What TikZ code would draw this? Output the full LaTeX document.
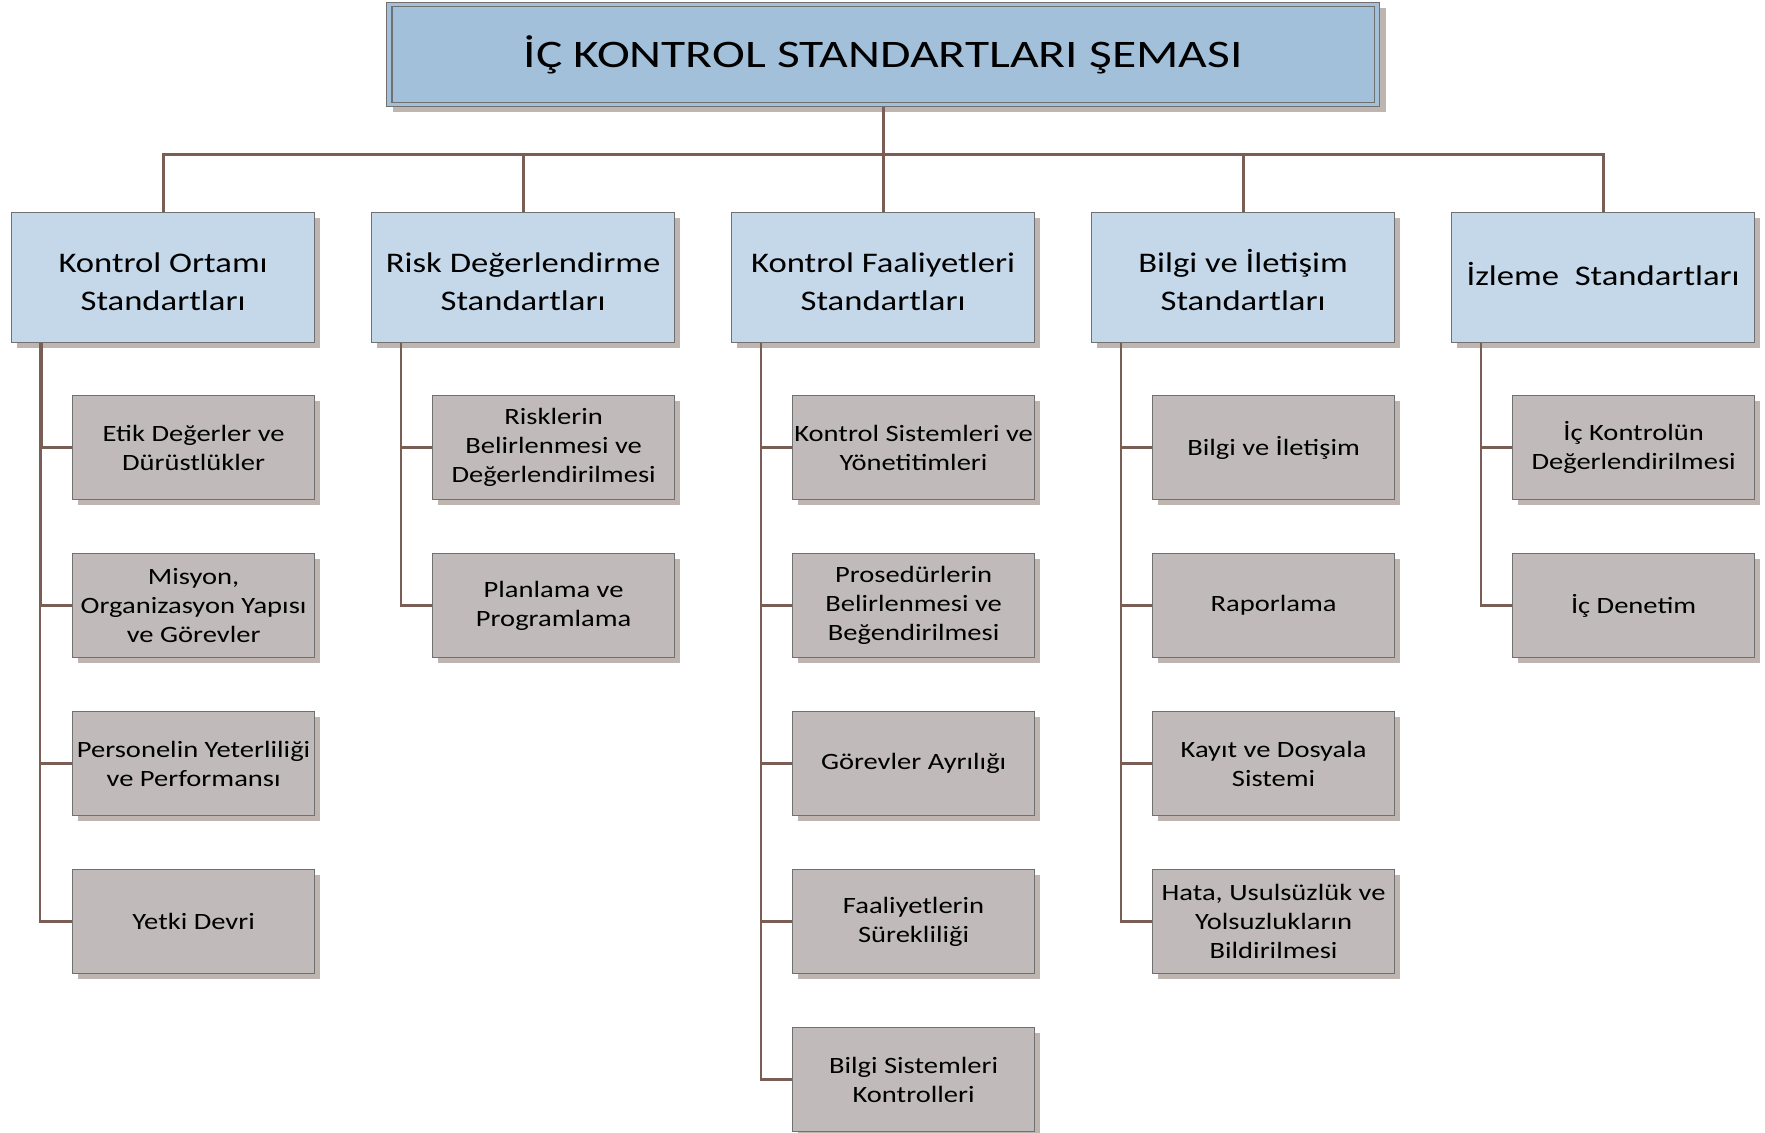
\documentclass[tikz,border=0pt]{standalone}
\usepackage{fontspec}
\setmainfont{Carlito}
\newfontfamily\titlefont{Carlito}[FakeStretch=1.27]
\newfontfamily\boxfont{Carlito}[FakeStretch=1.22]
\usetikzlibrary{shadows,calc}
\definecolor{titlefill}{RGB}{163,192,218}
\definecolor{catfill}{RGB}{197,216,233}
\definecolor{itemfill}{RGB}{192,186,186}
\definecolor{boxline}{RGB}{112,112,112}
\definecolor{shadowc}{RGB}{190,180,176}
\definecolor{linkc}{RGB}{122,94,86}
\tikzset{
  titlebox/.style={draw=boxline, line width=0.6pt, fill=titlefill, anchor=north west,
    minimum width=496.5pt, minimum height=52pt, inner sep=0pt,
    font=\titlefont\fontsize{19.5}{24}\selectfont,
    drop shadow={shadow xshift=3pt, shadow yshift=-2.5pt, fill=shadowc, opacity=1}},
  catbox/.style={draw=boxline, line width=0.6pt, fill=catfill, anchor=north west,
    minimum width=151.5pt, minimum height=65pt, inner sep=0pt, align=center,
    font=\boxfont\fontsize{14.2}{18.6}\selectfont,
    drop shadow={shadow xshift=2.5pt, shadow yshift=-2.5pt, fill=shadowc, opacity=1}},
  pushdown/.style={text height=32.5pt},
  pullup/.style={text height=8pt},
  itembox/.style={draw=boxline, line width=0.6pt, fill=itemfill, anchor=north west,
    minimum width=121pt, minimum height=52pt, inner sep=0pt, align=center,
    font=\boxfont\fontsize{11.7}{14.6}\selectfont,
    drop shadow={shadow xshift=2.5pt, shadow yshift=-2.5pt, fill=shadowc, opacity=1}},
  bus/.style={draw=linkc, line width=1.5pt},
  branch/.style={draw=linkc, line width=1.2pt},
}
\begin{document}
\begin{tikzpicture}[x=0.5pt,y=-0.5pt]
\useasboundingbox (0,0) rectangle (1765,1132);
% title
\node[titlebox] (title) at (386,2) {İÇ KONTROL STANDARTLARI ŞEMASI};
\draw[boxline, line width=0.6pt] ([shift={(3pt,-2.2pt)}]title.north west) rectangle ([shift={(-3pt,2.2pt)}]title.south east);
% categories
\node[catbox,pushdown] (k1) at (11,212)   {Kontrol Ortamı\\Standartları};
\node[catbox,pushdown] (k2) at (371,212)  {Risk Değerlendirme\\Standartları};
\node[catbox,pushdown] (k3) at (731,212)  {Kontrol Faaliyetleri\\Standartları};
\node[catbox,pushdown] (k4) at (1091,212) {Bilgi ve İletişim\\Standartları};
\node[catbox,pullup] (k5) at (1451,212) {İzleme\ \ Standartları};
% column 1
\node[itembox] (a1) at (72,395)  {Etik Değerler ve\\Dürüstlükler};
\node[itembox] (a2) at (72,553)  {Misyon,\\Organizasyon Yapısı\\ve Görevler};
\node[itembox] (a3) at (72,711)  {Personelin Yeterliliği\\ve Performansı};
\node[itembox] (a4) at (72,869)  {Yetki Devri};
% column 2
\node[itembox] (b1) at (432,395) {Risklerin\\Belirlenmesi ve\\Değerlendirilmesi};
\node[itembox] (b2) at (432,553) {Planlama ve\\Programlama};
% column 3
\node[itembox] (c1) at (792,395) {Kontrol Sistemleri ve\\Yönetitimleri};
\node[itembox] (c2) at (792,553) {Prosedürlerin\\Belirlenmesi ve\\Beğendirilmesi};
\node[itembox] (c3) at (792,711) {Görevler Ayrılığı};
\node[itembox] (c4) at (792,869) {Faaliyetlerin\\Sürekliliği};
\node[itembox] (c5) at (792,1027) {Bilgi Sistemleri\\Kontrolleri};
% column 4
\node[itembox] (d1) at (1152,395) {Bilgi ve İletişim};
\node[itembox] (d2) at (1152,553) {Raporlama};
\node[itembox] (d3) at (1152,711) {Kayıt ve Dosyala\\Sistemi};
\node[itembox] (d4) at (1152,869) {Hata, Usulsüzlük ve\\Yolsuzlukların\\Bildirilmesi};
% column 5
\node[itembox] (e1) at (1512,395) {İç Kontrolün\\Değerlendirilmesi};
\node[itembox] (e2) at (1512,553) {İç Denetim};
% top connectors
\coordinate (hub) at (882,154);
\draw[bus] (title.south) -- (k3.north);
\draw[bus] (hub) -| (k1.north);
\draw[bus] (hub) -| (k2.north);
\draw[bus] (hub) -| (k4.north);
\draw[bus] (hub) -| (k5.north);
% branch connectors (column 1 slightly offset, giving its thicker trunk)
\foreach \c/\s in {a1/15.5pt,a2/15pt,a3/14.5pt,a4/14.5pt}{
  \draw[branch] ([xshift=\s]k1.south west) |- (\c.west);
}
\foreach \p/\c in {k2/b1,k2/b2,k3/c1,k3/c2,k3/c3,k3/c4,k3/c5,k4/d1,k4/d2,k4/d3,k4/d4,k5/e1,k5/e2}{
  \draw[branch] ([xshift=15pt]\p.south west) |- (\c.west);
}
\end{tikzpicture}
\end{document}
